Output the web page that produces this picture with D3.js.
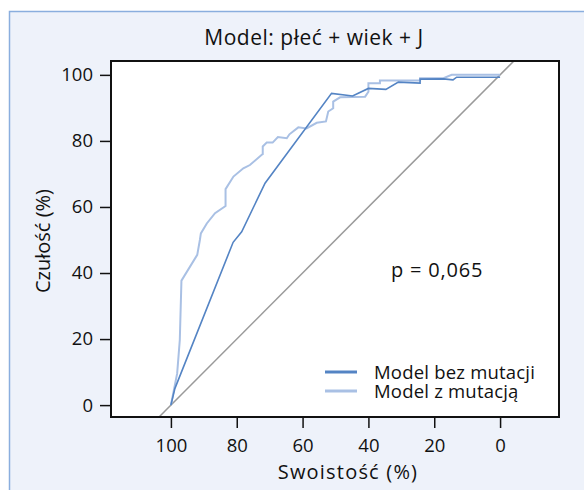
<!DOCTYPE html>
<html>
<head>
<meta charset="utf-8">
<script src="https://cdn.jsdelivr.net/npm/d3@7"></script>
<style>
  body { margin: 0; background: #fff; }
  svg { display: block; font-family: "Open Sans", "Noto Sans", sans-serif; }
</style>
</head>
<body>
<svg id="chart" width="584" height="490"></svg>
<script>
// ROC curves: [specificity %, sensitivity %]
var seriesNames = ["Model bez mutacji", "Model z mutacją"]
var bezMutacji = [
  [100, 0], [98.8, 5], [81.1, 49.3], [78.5, 52.5], [71.4, 67.2], [51.2, 94.4],
  [44.8, 93.6], [40, 95.9], [34.7, 95.6], [30.9, 97.8], [24.3, 97.5], [24.3, 98.7],
  [17.2, 98.8], [14.3, 98.5], [13.2, 99.3], [0, 99.3]
]
var zMutacja = [
  [100, 0], [98.1, 9.6], [97.3, 19.7], [96.8, 37.7], [92, 45.5], [91.2, 50], [90.9, 52],
  [89.1, 55], [86.6, 58.1], [83.4, 60.3], [83.4, 65.4], [81, 69.2], [78, 71.7],
  [76, 72.7], [72.4, 75.8], [72.1, 76], [72.1, 78.3], [70.9, 79.5], [69.1, 79.5],
  [67.5, 81.2], [64.8, 80.8], [64, 82], [61.3, 84.1], [58.8, 83.8], [55.7, 85.5],
  [52.9, 85.9], [52.2, 88.9], [50.7, 89.9], [50.7, 91.9], [48.6, 93.2], [41, 93.4],
  [40, 94.9], [40, 97.5], [36.5, 97.5], [36.5, 98.3], [24.3, 98.3], [24.3, 99],
  [17.2, 99], [14.7, 100], [0, 100]
]
var xTicks = [100, 80, 60, 40, 20, 0]
var yTicks = [0, 20, 40, 60, 80, 100]
var title = "Model: płeć + wiek + J"
var xTitle = "Swoistość (%)"
var yTitle = "Czułość (%)"
var pLabel = "p = 0,065"

var svg = d3.select("#chart")
var pLeft = 111, pRight = 559, pTop = 61, pBottom = 417

// panel
svg.append("rect")
  .attr("x", 9.5).attr("y", 11.5)
  .attr("width", 600).attr("height", 500)
  .attr("fill", "#eef2fa")
  .attr("stroke", "#8aaede")
  .attr("stroke-width", 1.5)

var x = d3.scaleLinear().domain([118.2, -17.9]).range([pLeft, pRight])
var y = d3.scaleLinear().domain([-3.6, 104.2]).range([pBottom, pTop])

svg.append("rect")
  .attr("x", pLeft).attr("y", pTop)
  .attr("width", pRight - pLeft).attr("height", pBottom - pTop)
  .attr("fill", "#fff")

svg.append("clipPath").attr("id", "clip")
  .append("rect")
  .attr("x", pLeft).attr("y", pTop)
  .attr("width", pRight - pLeft).attr("height", pBottom - pTop)

var plot = svg.append("g").attr("clip-path", "url(#clip)")

plot.append("line")
  .attr("x1", x(110)).attr("y1", y(-10))
  .attr("x2", x(-10)).attr("y2", y(110))
  .attr("stroke", "#9a9a9a")
  .attr("stroke-width", 1.5)

var line = d3.line()
  .x(function(d) { return x(d[0]) })
  .y(function(d) { return y(d[1]) })

var colors = ["#5484c4", "#a9c0e4"]
var widths = [1.6, 2]

plot.append("path")
  .datum(zMutacja)
  .attr("d", line)
  .attr("fill", "none")
  .attr("stroke", colors[1])
  .attr("stroke-width", widths[1])

plot.append("path")
  .datum(bezMutacji)
  .attr("d", line)
  .attr("fill", "none")
  .attr("stroke", colors[0])
  .attr("stroke-width", widths[0])

// axes
svg.append("g")
  .attr("transform", "translate(0," + pBottom + ")")
  .call(d3.axisBottom(x).tickValues(xTicks).tickSize(11).tickPadding(11))
svg.append("g")
  .attr("transform", "translate(" + pLeft + ",0)")
  .call(d3.axisLeft(y).tickValues(yTicks).tickSize(11).tickPadding(7))

svg.selectAll(".domain").remove()
svg.selectAll(".tick line").attr("stroke", "#111").attr("stroke-width", 1.5)
svg.selectAll(".tick text")
  .attr("fill", "#111")
  .style("font-size", "18.5px")
  .style("font-family", "'Open Sans', 'Noto Sans', sans-serif")

svg.append("rect")
  .attr("x", pLeft).attr("y", pTop)
  .attr("width", pRight - pLeft).attr("height", pBottom - pTop)
  .attr("fill", "none")
  .attr("stroke", "#111")
  .attr("stroke-width", 2)

// texts
svg.append("text")
  .attr("x", 314).attr("y", 45)
  .attr("text-anchor", "middle")
  .style("font-size", "21px")
  .style("letter-spacing", "0.5px")
  .attr("fill", "#111")
  .text(title)

svg.append("text")
  .attr("x", 348).attr("y", 479)
  .attr("text-anchor", "middle")
  .style("font-size", "20px")
  .style("letter-spacing", "1.2px")
  .attr("fill", "#111")
  .text(xTitle)

svg.append("text")
  .attr("transform", "translate(50," + 241 + ") rotate(-90)")
  .attr("text-anchor", "middle")
  .style("font-size", "20px")
  .attr("fill", "#111")
  .text(yTitle)

svg.append("text")
  .attr("x", 391).attr("y", 277)
  .style("font-size", "20px")
  .style("letter-spacing", "0.8px")
  .attr("fill", "#111")
  .text(pLabel)

// legend
var legend = svg.append("g")
seriesNames.forEach(function(name, i) {
  var ly = 372 + i * 19
  legend.append("line")
    .attr("x1", 325).attr("x2", 357)
    .attr("y1", ly).attr("y2", ly)
    .attr("stroke", colors[i])
    .attr("stroke-width", 3)
  legend.append("text")
    .attr("x", 374).attr("y", ly + 7)
    .style("font-size", "18.5px")
    .style("letter-spacing", "0.2px")
    .attr("fill", "#111")
    .text(name)
})
</script>
</body>
</html>
